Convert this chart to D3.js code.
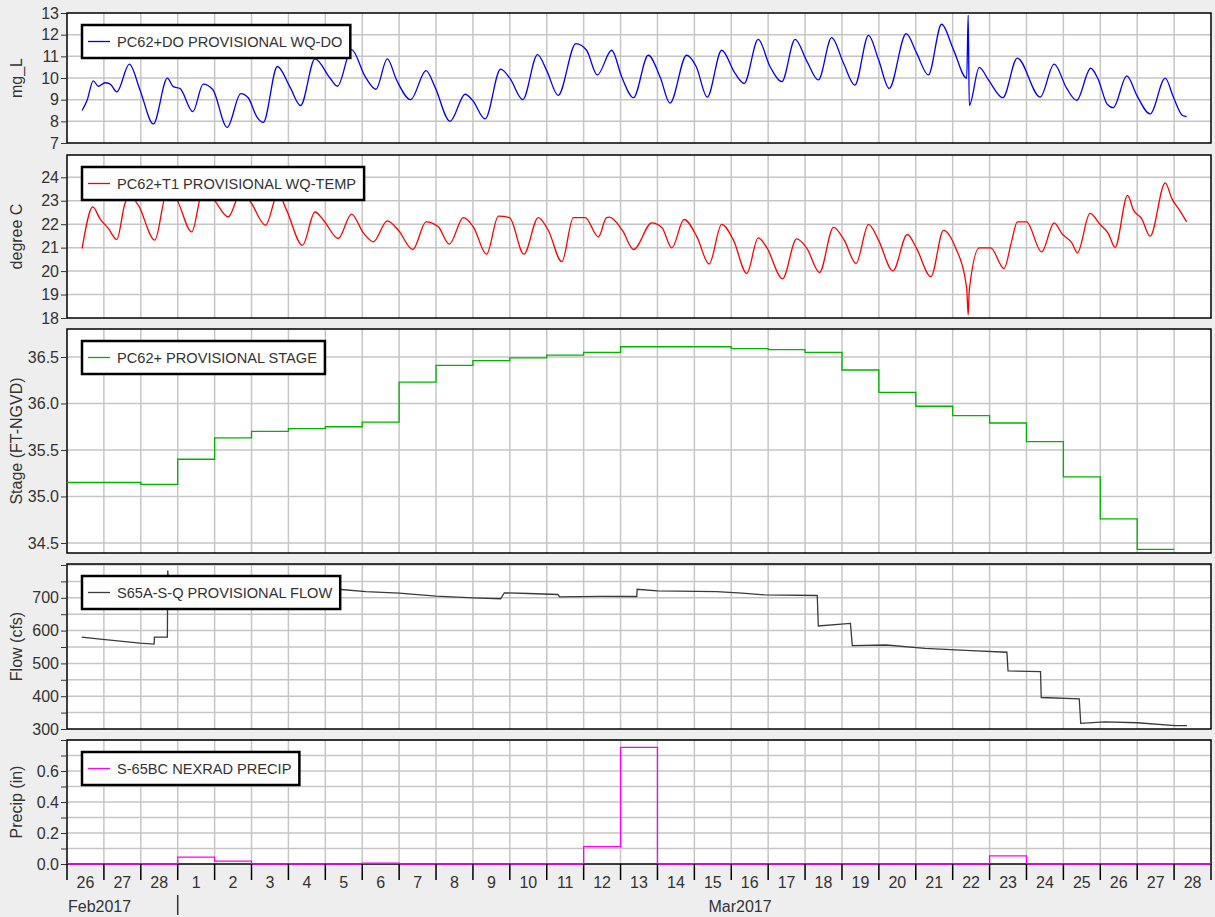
<!DOCTYPE html>
<html>
<head>
<meta charset="utf-8">
<script src="https://cdn.jsdelivr.net/npm/d3@7"></script>
<style>
  body { margin: 0; background: #eeeeee; }
  text { font-family: "Liberation Sans", Arial, sans-serif; }
</style>
</head>
<body>
<svg id="chart"></svg>
<script>
// day offsets are counted from 26 Feb 2017 00:00
const dayLabels = ["26", "27", "28", "1", "2", "3", "4", "5", "6", "7", "8", "9", "10", "11", "12", "13",
  "14", "15", "16", "17", "18", "19", "20", "21", "22", "23", "24", "25", "26", "27", "28"];
const monthLabels = [{ text: "Feb2017", day: 0 }, { text: "Mar2017", day: 3 }];

const doSeries = [[0.41,8.50],[0.55,9.0],[0.71,9.87],[0.85,9.62],[1.03,9.78],[1.17,9.72],[1.35,9.36],[1.69,10.64],
  [1.98,9.44],[2.34,7.88],[2.72,9.99],[2.88,9.60],[3.06,9.52],[3.41,8.45],[3.69,9.72],[3.95,9.47],[4.34,7.72],
  [4.71,9.28],[4.91,9.09],[5.14,8.22],[5.32,7.95],[5.70,10.53],[6.04,9.59],[6.33,8.73],[6.72,10.88],[7.13,9.99],
  [7.33,9.62],[7.71,11.31],[8.08,10.06],[8.37,9.48],[8.68,10.88],[8.93,9.91],[9.31,9.00],[9.73,10.34],[9.97,9.59],
  [10.38,8.00],[10.79,9.25],[10.99,8.97],[11.33,8.11],[11.75,10.41],[12.00,9.99],[12.35,9.00],[12.75,11.08],
  [13.00,10.34],[13.31,9.20],[13.79,11.59],[14.08,11.28],[14.37,10.14],[14.76,11.28],[15.03,10.06],[15.35,9.09],
  [15.75,11.05],[16.07,10.06],[16.34,8.84],[16.79,11.05],[17.05,10.53],[17.35,9.12],[17.74,11.28],[18.10,10.22],
  [18.35,9.75],[18.73,11.78],[19.05,10.53],[19.37,9.83],[19.73,11.78],[20.05,10.77],[20.36,9.91],[20.72,11.86],
  [21.04,10.69],[21.35,9.67],[21.72,11.97],[21.99,10.85],[22.28,9.52],[22.74,12.05],[23.02,11.16],[23.34,10.14],
  [23.70,12.48],[24.02,11.31],[24.38,9.99],[24.42,12.90],[24.45,8.73],[24.72,10.49],[24.97,9.91],[25.36,9.09],
  [25.75,10.92],[26.37,9.12],[26.75,10.64],[27.09,9.52],[27.36,8.97],[27.74,10.45],[27.95,9.91],[28.18,8.81],
  [28.35,8.63],[28.72,10.10],[28.99,9.20],[29.35,8.34],[29.76,9.99],[29.98,9.12],[30.23,8.27],[30.34,8.22]];

const tempSeries = [[0.41,20.97],[0.70,22.74],[0.89,22.24],[1.12,21.82],[1.35,21.35],[1.57,22.88],[1.70,23.2],
  [1.93,22.81],[2.38,21.32],[2.70,23.3],[2.95,23.1],[3.38,21.67],[3.68,23.4],[3.95,23.1],[4.37,22.31],[4.70,23.3],
  [4.95,23.0],[5.38,21.96],[5.72,23.3],[5.95,22.6],[6.38,21.10],[6.72,22.52],[6.95,22.17],[7.35,21.39],[7.71,22.43],
  [8.03,21.63],[8.30,21.25],[8.68,22.14],[8.98,21.74],[9.37,20.92],[9.73,22.10],[10.06,21.89],[10.36,21.15],
  [10.74,22.28],[11.01,21.89],[11.37,20.72],[11.69,22.34],[11.99,22.28],[12.38,20.72],[12.77,22.28],[13.04,21.74],
  [13.41,20.40],[13.72,22.28],[14.04,22.28],[14.40,21.46],[14.62,22.28],[14.70,22.30],[15.06,21.71],[15.35,20.92],
  [15.85,22.06],[16.12,21.86],[16.39,20.99],[16.72,22.20],[17.07,21.46],[17.40,20.30],[17.74,21.99],[18.06,21.32],
  [18.42,19.90],[18.73,21.42],[18.96,21.01],[19.39,19.67],[19.77,21.37],[20.05,20.97],[20.39,19.94],[20.77,21.86],
  [21.06,21.32],[21.38,20.33],[21.72,21.99],[21.99,21.32],[22.38,20.01],[22.77,21.56],[23.02,20.97],[23.41,19.76],
  [23.75,21.74],[24.06,21.06],[24.38,19.26],[24.42,18.13],[24.45,19.19],[24.72,20.99],[25.03,20.99],[25.39,20.11],
  [25.60,21.29],[25.75,22.10],[26.00,22.10],[26.41,20.82],[26.75,22.06],[26.96,21.60],[27.23,21.20],[27.38,20.78],
  [27.72,22.46],[27.99,22.00],[28.22,21.60],[28.40,21.01],[28.74,23.23],[28.90,22.60],[29.12,22.24],[29.35,21.49],
  [29.76,23.76],[29.94,23.09],[30.16,22.57],[30.34,22.10]];

// one daily stage value, day 0..29
const stageDaily = [35.15, 35.15, 35.13, 35.40, 35.63, 35.70, 35.73, 35.75, 35.80, 36.23, 36.41, 36.46, 36.49,
  36.52, 36.55, 36.61, 36.61, 36.61, 36.59, 36.58, 36.55, 36.36, 36.12, 35.97, 35.87, 35.79, 35.59, 35.21,
  34.76, 34.43];

const flowSeries = [[0.40,580],[0.90,574],[1.98,562],[2.36,559],[2.37,580],[2.72,580],[2.73,783],[2.76,730],
  [5.0,724],[7.35,726],[8.10,719],[9.0,714],[10.0,705],[11.0,700],[11.75,697],[11.85,715],[12.5,713],[13.3,710],
  [13.35,703],[14.45,704],[15.44,704],[15.45,726],[16.0,721],[17.6,719],[18.3,714],[18.9,709],[20.33,707],
  [20.36,614],[21.23,622],[21.28,554],[22.2,556],[23.25,546],[24.5,539],[25.47,534],[25.5,477],[26.38,475],
  [26.4,396],[27.43,392],[27.47,317],[28.13,322],[29.0,319],[30.03,310],[30.35,310]];

// one daily precip total, day 0..30
const precipDaily = [0, 0, 0, 0.045, 0.018, 0, 0, 0, 0.005, 0, 0, 0, 0, 0, 0.112, 0.753, 0, 0, 0, 0, 0,
  0, 0, 0, 0, 0.052, 0, 0, 0, 0, 0];

const width = 1215;
const height = 917;
const left = 67;
const right = 1211;
const t0 = Date.UTC(2017, 1, 26);
const toDate = (d) => new Date(t0 + d * 864e5);

const svg = d3.select("#chart").attr("width", width).attr("height", height);

svg.append("rect").attr("width", width).attr("height", height).attr("fill", "#eeeeee");

const x = d3.scaleUtc().domain([toDate(0), toDate(31)]).range([left, right]);
const days = d3.range(0, 32);

// step series -> points with a closing point
const stagePts = stageDaily.map((v, i) => [i, v]).concat([[stageDaily.length, stageDaily[stageDaily.length - 1]]]);
const precipPts = precipDaily.map((v, i) => [i, v]).concat([[precipDaily.length, precipDaily[precipDaily.length - 1]]]);

const panels = [
  { top: 13, bottom: 143, domain: [7, 13], ticks: d3.range(7, 13.01, 1), grid: d3.range(8, 13, 1),
    fmt: (d) => d3.format("d")(d), title: "mg_L", data: doSeries, color: "#0000ff", curve: d3.curveMonotoneX,
    legend: "PC62+DO PROVISIONAL WQ-DO" },
  { top: 155, bottom: 318, domain: [18, 24.95], ticks: d3.range(18, 24.01, 1), grid: d3.range(19, 24.01, 1),
    fmt: (d) => d3.format("d")(d), title: "degree C", data: tempSeries, color: "#ff0000", curve: d3.curveMonotoneX,
    legend: "PC62+T1 PROVISIONAL WQ-TEMP" },
  { top: 329, bottom: 553, domain: [34.392, 36.801], ticks: d3.range(34.5, 36.51, 0.5), grid: d3.range(34.5, 36.51, 0.5),
    fmt: (d) => d3.format(".1f")(d), title: "Stage (FT-NGVD)", data: stagePts, color: "#00b400", curve: d3.curveStepAfter,
    legend: "PC62+ PROVISIONAL STAGE" },
  { top: 564, bottom: 729, domain: [300, 803], ticks: d3.range(300, 801, 50), grid: d3.range(350, 801, 50),
    fmt: (d) => (d % 100 === 0 && d < 800 ? d : ""), title: "Flow (cfs)", data: flowSeries, color: "#3a3a3a",
    curve: d3.curveLinear, legend: "S65A-S-Q PROVISIONAL FLOW" },
  { top: 740, bottom: 864, domain: [0, 0.8], ticks: d3.range(0, 0.81, 0.1), grid: d3.range(0.1, 0.81, 0.1),
    fmt: (d) => (Math.round(d * 10) % 2 === 0 && d < 0.75 ? d3.format(".1f")(d) : ""), title: "Precip (in)",
    data: precipPts, color: "#ff00ff", curve: d3.curveStepAfter, legend: "S-65BC NEXRAD PRECIP" }
];

panels.forEach((p) => {
  const y = d3.scaleLinear().domain(p.domain).range([p.bottom, p.top]);
  const g = svg.append("g");

  g.append("rect")
    .attr("x", left).attr("y", p.top)
    .attr("width", right - left).attr("height", p.bottom - p.top)
    .attr("fill", "#ffffff");

  // grid
  g.selectAll(".vgrid").data(days.slice(1, 31)).join("line")
    .attr("x1", (d) => x(toDate(d))).attr("x2", (d) => x(toDate(d)))
    .attr("y1", p.top).attr("y2", p.bottom)
    .attr("stroke", "#c6c6c6").attr("stroke-width", 1.5);
  g.selectAll(".hgrid").data(p.grid).join("line")
    .attr("x1", left).attr("x2", right)
    .attr("y1", (d) => y(d)).attr("y2", (d) => y(d))
    .attr("stroke", "#c6c6c6").attr("stroke-width", 1.5);

  // border
  g.append("rect")
    .attr("x", left).attr("y", p.top)
    .attr("width", right - left).attr("height", p.bottom - p.top)
    .attr("fill", "none").attr("stroke", "#000").attr("stroke-width", 1.5);

  // y axis
  const yAxis = d3.axisLeft(y).tickValues(p.ticks).tickFormat(p.fmt).tickSize(6).tickPadding(2);
  g.append("g").attr("transform", `translate(${left},0)`).call(yAxis)
    .call((a) => a.select(".domain").remove())
    .call((a) => a.selectAll(".tick line").attr("stroke", "#333"))
    .call((a) => a.selectAll(".tick text")
      .attr("fill", "#333").style("font-size", "16px")
      .style("font-family", "'Liberation Sans', Arial, sans-serif"));

  g.append("text")
    .attr("transform", `translate(${22},${(p.top + p.bottom) / 2}) rotate(-90)`)
    .attr("text-anchor", "middle")
    .attr("fill", "#333").style("font-size", "16px")
    .text(p.title);

  // series
  const line = d3.line()
    .curve(p.curve)
    .x((d) => x(toDate(d[0])))
    .y((d) => y(d[1]));
  g.append("path")
    .attr("d", line(p.data))
    .attr("fill", "none")
    .attr("stroke", p.color)
    .attr("stroke-width", 1.3);

  // legend, box sized to its text
  const lx = 82;
  const ly = p.top + 12;
  const lg = g.append("g");
  const box = lg.append("rect")
    .attr("x", lx).attr("y", ly).attr("height", 33)
    .attr("fill", "#ffffff").attr("stroke", "#000").attr("stroke-width", 2.5);
  lg.append("line")
    .attr("x1", lx + 6).attr("x2", lx + 28)
    .attr("y1", ly + 16.5).attr("y2", ly + 16.5)
    .attr("stroke", p.color).attr("stroke-width", 1.3);
  const lt = lg.append("text")
    .attr("x", lx + 35).attr("y", ly + 21.5)
    .attr("fill", "#333").style("font-size", "14.6px")
    .text(p.legend);
  box.attr("width", 35 + lt.node().getComputedTextLength() + 8);
});

// bottom time axis
const axisTop = panels[panels.length - 1].bottom;
svg.append("g").selectAll("line").data(days).join("line")
  .attr("x1", (d) => x(toDate(d))).attr("x2", (d) => x(toDate(d)))
  .attr("y1", axisTop).attr("y2", axisTop + 16)
  .attr("stroke", "#000").attr("stroke-width", 1.5);

svg.append("g").selectAll("text").data(dayLabels).join("text")
  .attr("x", (d, i) => x(toDate(i + 0.5)))
  .attr("y", axisTop + 24)
  .attr("text-anchor", "middle")
  .attr("fill", "#333").style("font-size", "16px")
  .text((d) => d);

svg.append("text")
  .attr("x", x(toDate(monthLabels[0].day)) + 1).attr("y", 912)
  .attr("fill", "#333").style("font-size", "16px")
  .text(monthLabels[0].text);

svg.append("line")
  .attr("x1", x(toDate(monthLabels[1].day))).attr("x2", x(toDate(monthLabels[1].day)))
  .attr("y1", 895).attr("y2", 915)
  .attr("stroke", "#333").attr("stroke-width", 1.5);

svg.append("text")
  .attr("x", 740).attr("y", 912)
  .attr("text-anchor", "middle")
  .attr("fill", "#333").style("font-size", "16px")
  .text(monthLabels[1].text);
</script>
</body>
</html>
